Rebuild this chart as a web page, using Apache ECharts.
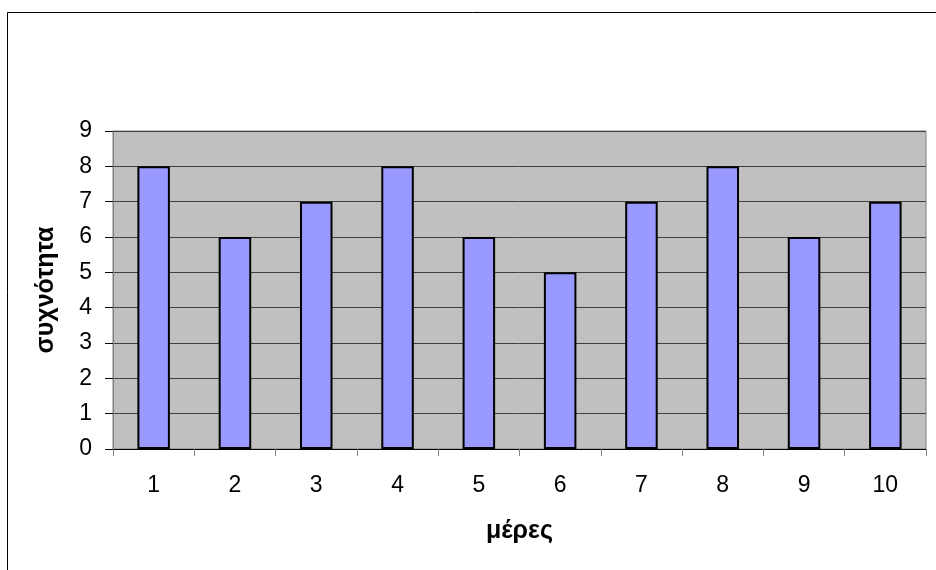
<!DOCTYPE html>
<html><head><meta charset="utf-8">
<script src="https://cdn.jsdelivr.net/npm/echarts@6/dist/echarts.min.js"></script>
<style>html,body{margin:0;padding:0;background:#fff}#c{width:936px;height:570px}</style>
</head><body><div id="c"></div>
<script>
const categories = ['1','2','3','4','5','6','7','8','9','10'];
const values = [8, 6, 7, 8, 6, 5, 7, 8, 6, 7];
const xTitle = 'μέρες';
const yTitle = 'συχνότητα';

const chart = echarts.init(document.getElementById('c'), null, {renderer:'canvas'});
const font = '"Liberation Sans", Arial, sans-serif';
chart.setOption({
  animation: false,
  backgroundColor: '#fff',
  graphic: [{
    type: 'rect', shape: {x: 7.5, y: 12.5, width: 1000, height: 1000},
    style: {fill: 'none', stroke: '#000', lineWidth: 1}, silent: true, z: -10
  }],
  grid: {left: 113, right: 10, top: 131, bottom: 121, show: true,
    backgroundColor: '#C0C0C0', borderColor: '#808080', borderWidth: 1},
  xAxis: {
    type: 'category', data: categories,
    name: xTitle, nameLocation: 'middle', nameGap: 70,
    nameTextStyle: {fontFamily: font, fontSize: 25, fontWeight: 'bold', color: '#000'},
    axisLine: {show: true, lineStyle: {color: '#000', width: 1}},
    axisTick: {show: true, alignWithLabel: false, length: 7, lineStyle: {color: '#808080'}},
    axisLabel: {fontFamily: font, fontSize: 23, color: '#000', margin: 25},
    splitLine: {show: false}
  },
  yAxis: {
    type: 'value', min: 0, max: 9, interval: 1,
    name: yTitle, nameLocation: 'middle', nameGap: 54, nameRotate: 90,
    nameTextStyle: {fontFamily: font, fontSize: 25, fontWeight: 'bold', color: '#000'},
    axisLine: {show: true, lineStyle: {color: '#808080', width: 1}},
    axisTick: {show: true, length: 8, lineStyle: {color: '#000'}},
    axisLabel: {fontFamily: font, fontSize: 23, color: '#000', margin: 21},
    splitLine: {show: true, lineStyle: {color: '#404040', width: 1}}
  },
  series: [{
    type: 'bar', data: values, barWidth: '40%',
    itemStyle: {color: '#9999FF', borderColor: '#000', borderWidth: 2}
  }]
});
</script></body></html>
